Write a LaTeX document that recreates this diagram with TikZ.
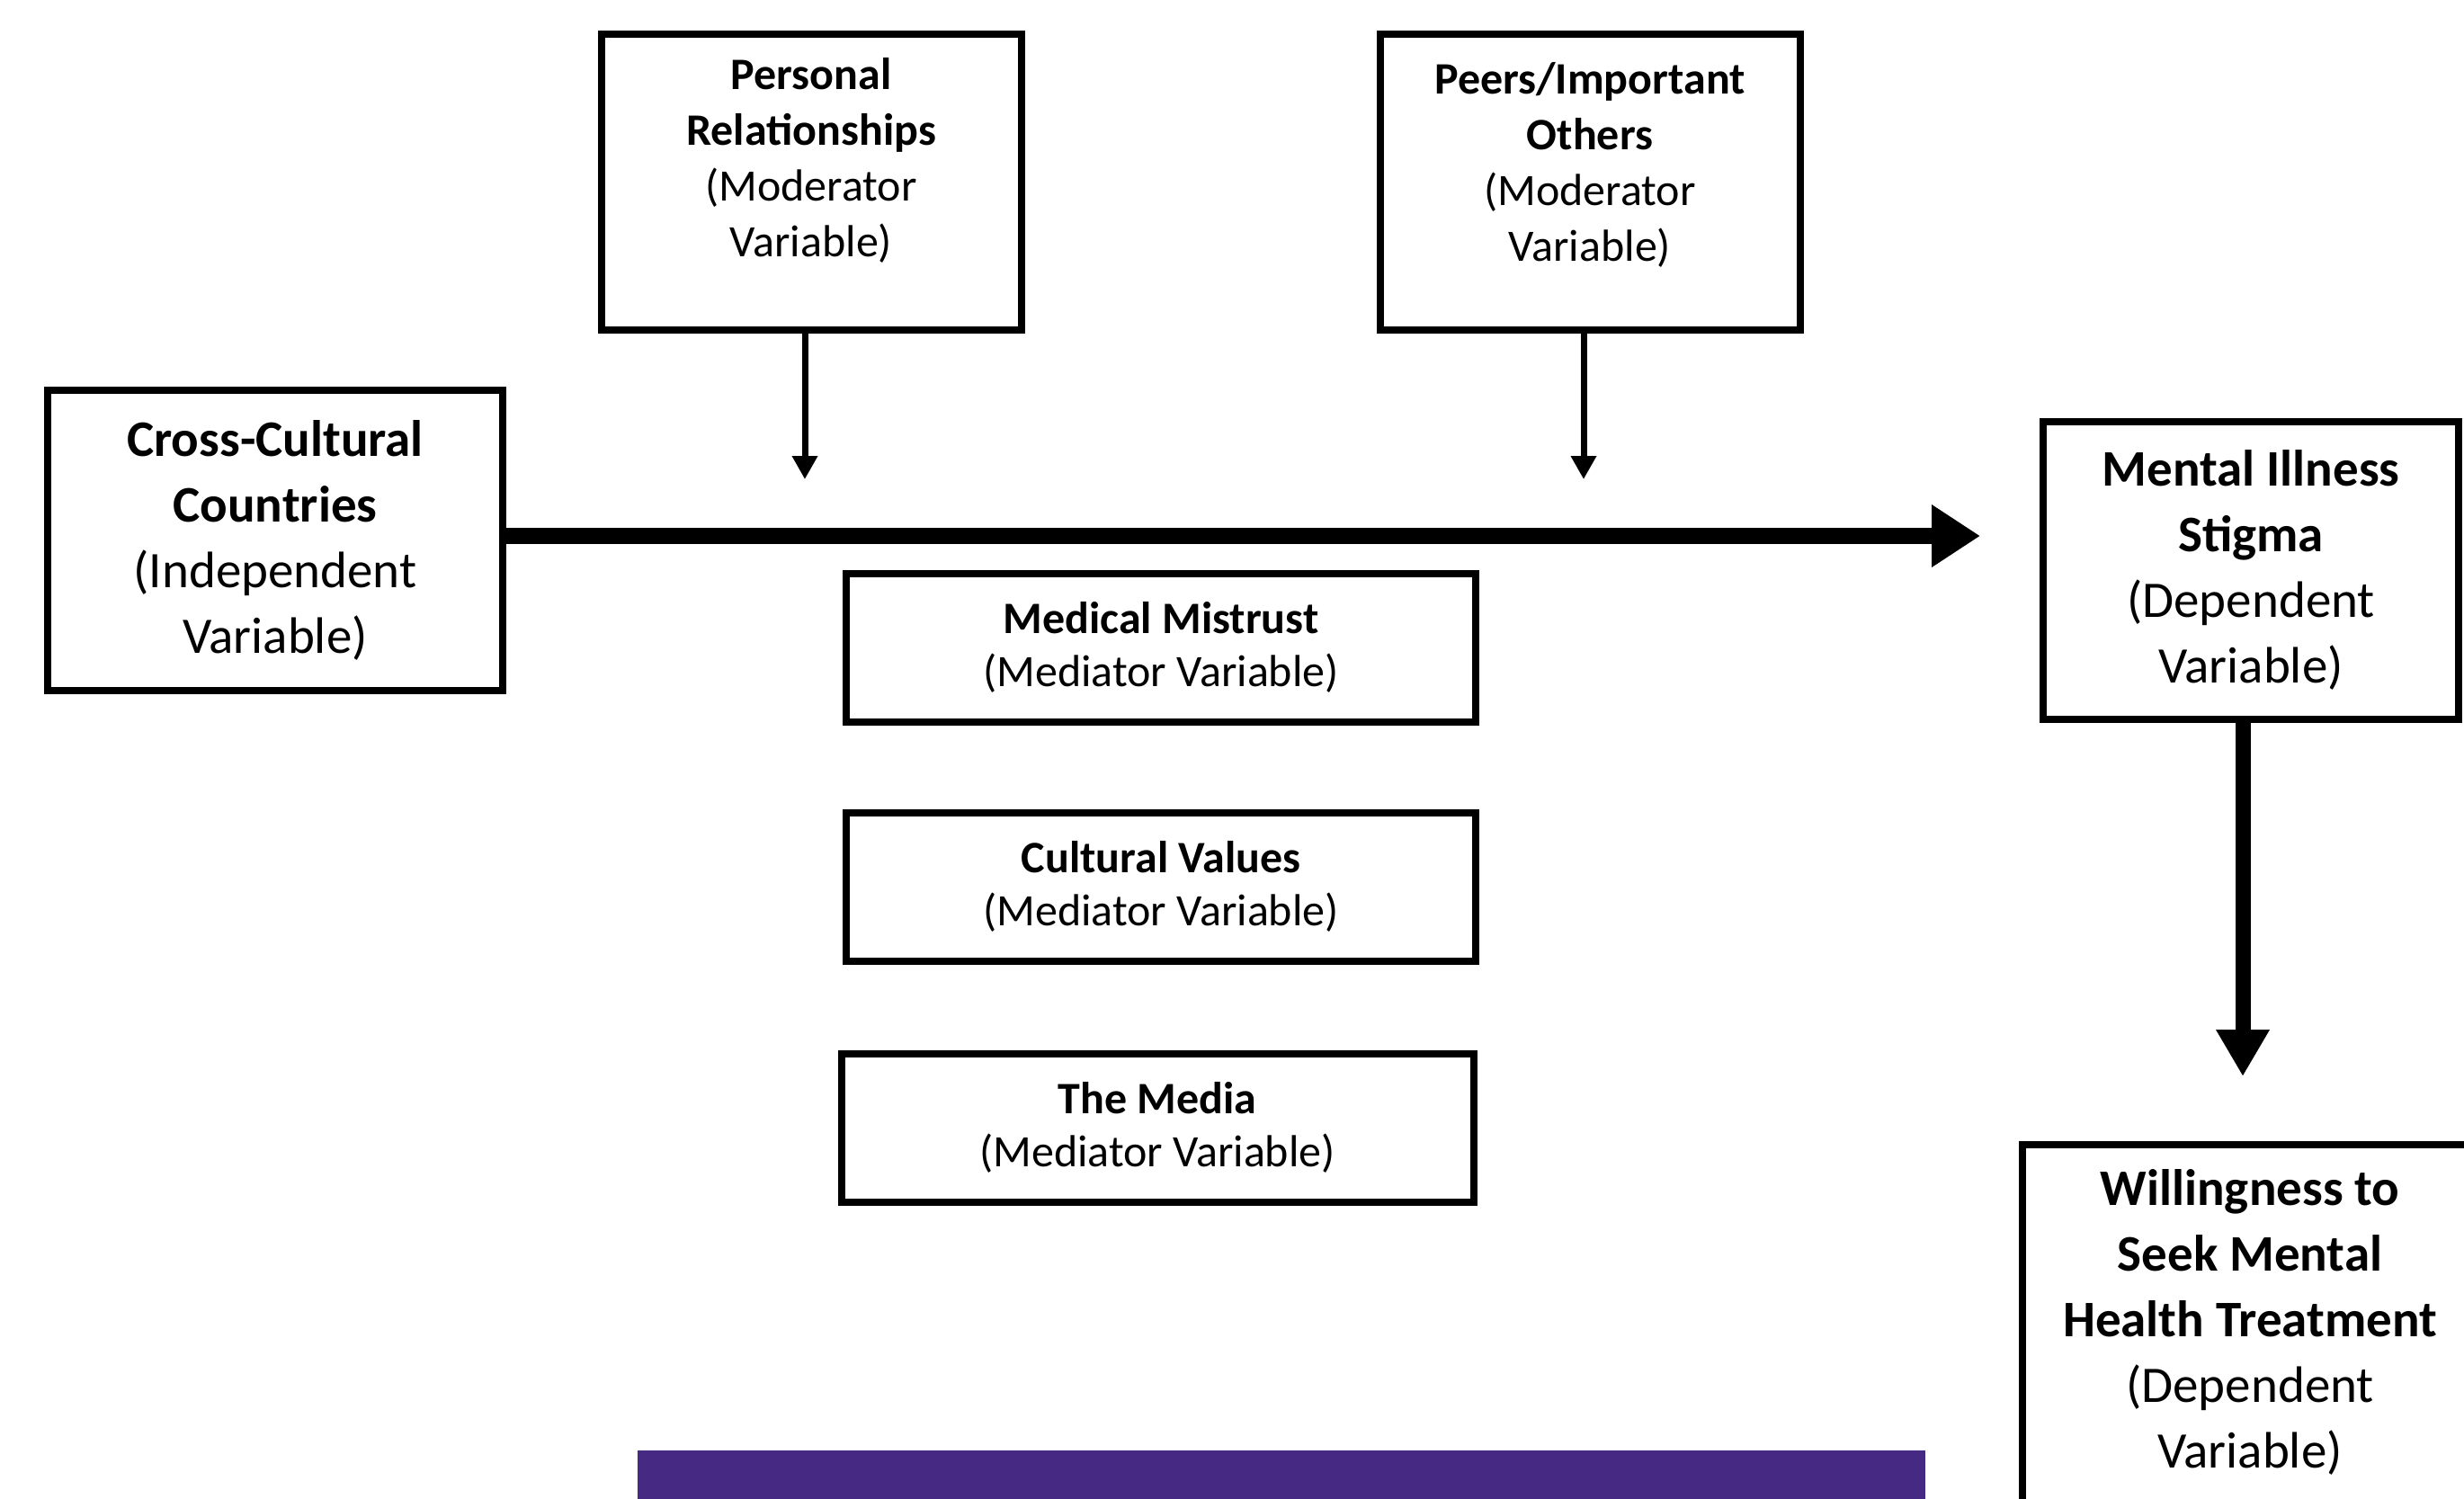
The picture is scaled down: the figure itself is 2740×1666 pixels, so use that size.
\documentclass[tikz,border=0pt]{standalone}
\usepackage{fontspec}
\setmainfont{Carlito}
\usetikzlibrary{arrows.meta}
\definecolor{barpurple}{RGB}{70,41,130}
\begin{document}
\begin{tikzpicture}[x=1pt,y=-1pt,
  box/.style={draw, line width=8pt, inner sep=0pt, align=center},
  bigtxt/.style={align=center, font=\fontsize{57}{73}\selectfont},
  modtxt/.style={align=center, font=\fontsize{50}{62}\selectfont},
  medtxt/.style={align=center, font=\fontsize{50}{59}\selectfont},
  mainarrow/.style={line width=18pt, -{Triangle[length=54pt,width=66pt]}},
  downarrow/.style={line width=17pt, -{Triangle[length=52pt,width=56pt]}},
  modarrow/.style={line width=7pt, -{Triangle[length=26pt,width=27pt]}}
]
\useasboundingbox (0,0) rectangle (2740,1666);
\fill[white] (0,0) rectangle (2740,1666);

% independent
\node[box, bigtxt, minimum width=506pt, minimum height=334pt] (cc) at (306,601)
  {\textbf{Cross-Cultural}\\\textbf{Countries}\\(Independent\\Variable)};

% moderators
\node[box, minimum width=467pt, minimum height=329pt] (pr) at (902,202) {};
\node[modtxt] (prt) at (902,178) {\textbf{Personal}\\\textbf{Relationships}\\(Moderator\\Variable)};
\node[box, minimum width=467pt, minimum height=329pt] (po) at (1768,202) {};
\node[modtxt] (pot) at (1768,183) {\textbf{Peers/Important}\\\textbf{Others}\\(Moderator\\Variable)};
\coordinate (prend) at (895,533);
\coordinate (poend) at (1761,533);
\draw[modarrow] (pr.south -| prend) -- (prend);
\draw[modarrow] (po.south -| poend) -- (poend);

% dependent
\node[box, bigtxt, minimum width=462pt, minimum height=331pt] (mi) at (2503,634)
  {\textbf{Mental Illness}\\\textbf{Stigma}\\(Dependent\\Variable)};

\draw[mainarrow, shorten >=66pt] ([yshift=5pt]cc.east) -- ([yshift=5pt]cc.east -| mi.west);

% mediators
\node[box, medtxt, minimum width=700pt, minimum height=165pt] (mm) at (1291,720)
  {\textbf{Medical Mistrust}\\(Mediator Variable)};
\node[box, medtxt, minimum width=700pt, minimum height=165pt] (cv) at (1291,986)
  {\textbf{Cultural Values}\\(Mediator Variable)};
\node[box, medtxt, minimum width=703pt, minimum height=165pt] (tm) at (1287,1254)
  {\textbf{The Media}\\(Mediator Variable)};

% willingness
\begin{scope}
\clip (0,0) rectangle (2740,1666);
\node[box, anchor=north, minimum width=506pt, minimum height=460pt] (wl) at (2502,1269) {};
\end{scope}
\node[bigtxt] (wlt) at (2502,1470)
  {\textbf{Willingness to}\\\textbf{Seek Mental}\\\textbf{Health Treatment}\\(Dependent\\Variable)};

\draw[downarrow, shorten >=72pt] ([xshift=-9pt]mi.south) -- ([xshift=-9pt]mi.south |- wl.north);

% purple bar
\fill[barpurple] (709,1613) rectangle (2141,1680);
\end{tikzpicture}
\end{document}
